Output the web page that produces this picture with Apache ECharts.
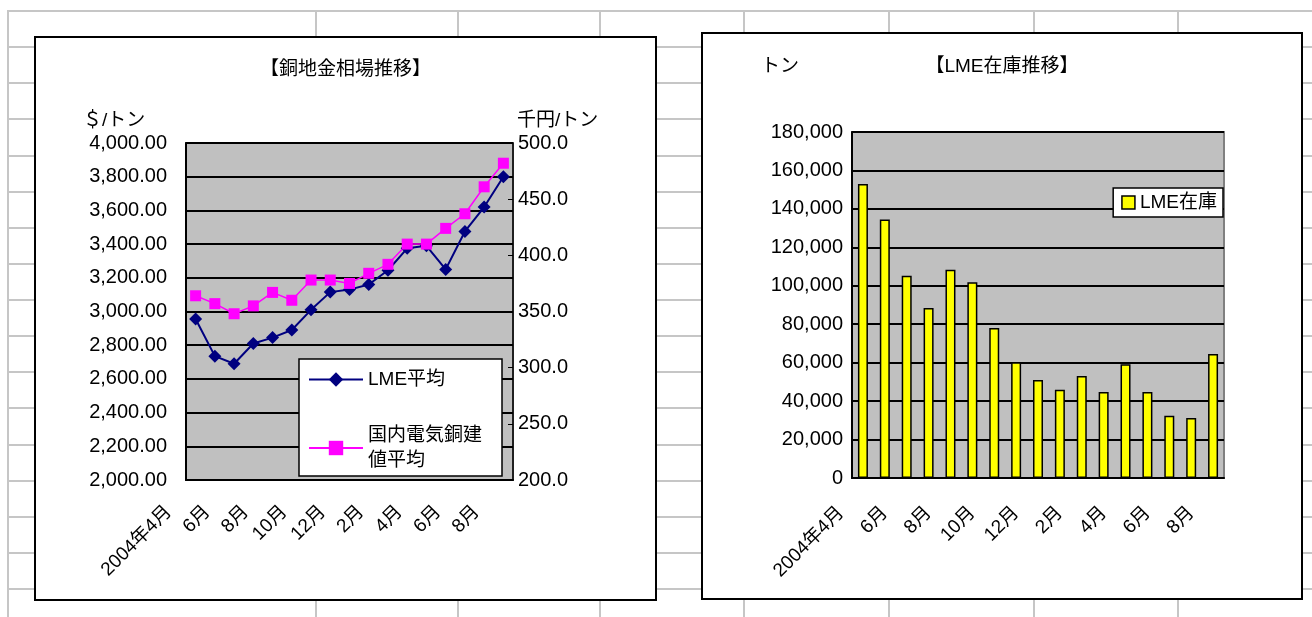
<!DOCTYPE html>
<html>
<head>
<meta charset="utf-8">
<script src="https://cdn.jsdelivr.net/npm/echarts@6/dist/echarts.min.js"></script>
<style>
body{margin:0;width:1312px;height:617px;overflow:hidden;background:#fff;position:relative;}
.hl{position:absolute;height:2px;background:#c6c6c6;}
.vl{position:absolute;width:2px;background:#c6c6c6;}
.box{position:absolute;background:#fff;}
.frame{position:absolute;border:2px solid #000;box-sizing:border-box;pointer-events:none;}
</style>
</head>
<body>
<div id="sheet"></div>
<div class="box" id="priceChart" style="left:34px;top:36px;width:623px;height:565px"></div>
<div class="frame" style="left:34px;top:36px;width:623px;height:565px"></div>
<div class="box" id="stockChart" style="left:701px;top:32px;width:602px;height:568px"></div>
<div class="frame" style="left:701px;top:32px;width:602px;height:568px"></div>
<script>
// months 2004/4 - 2005/8
var months = ['2004年4月','5月','6月','7月','8月','9月','10月','11月','12月','2005年1月','2月','3月','4月','5月','6月','7月','8月'];
// LME average, $/t
var lmeAvg = [2955, 2735, 2690, 2810, 2845, 2890, 3010, 3115, 3130, 3160, 3245, 3375, 3390, 3250, 3475, 3620, 3800];
// domestic electrolytic copper price, 1000 yen/t
var domesticAvg = [364, 357, 348, 355, 367, 360, 378, 378, 375, 384, 392, 410, 410, 424, 437, 461, 482];
// LME stock, t
var lmeStock = [153000, 134500, 105200, 88400, 108300, 101900, 78000, 60200, 51000, 45900, 53100, 44700, 59200, 44700, 32400, 31200, 64500];

var FONT = '"Liberation Sans","Noto Sans CJK JP",sans-serif';

// spreadsheet cell lines behind the charts
var sheet = document.getElementById('sheet');
var colX = [8, 316, 458, 600, 744, 889, 1034, 1178];
for (var k = 0; k <= 16; k++) {
    var d = document.createElement('div');
    d.className = 'hl';
    d.style.left = '8px';
    d.style.width = '1304px';
    d.style.top = Math.round(10 + k * 36.125) + 'px';
    sheet.appendChild(d);
}
colX.forEach(function(x) {
    var d = document.createElement('div');
    d.className = 'vl';
    d.style.left = (x - 1) + 'px';
    d.style.top = '10px';
    d.style.height = '607px';
    sheet.appendChild(d);
});

var black = '#000';

var chart1 = echarts.init(document.getElementById('priceChart'));
chart1.setOption({
    animation: false,
    textStyle: { fontFamily: FONT },
    title: [
        { text: '【銅地金相場推移】', left: 'center', top: 24, padding: 0,
          textStyle: { fontSize: 19, fontWeight: 'normal', color: black, fontFamily: FONT } },
        { text: '＄/トン', left: 49, top: 75, padding: 0,
          textStyle: { fontSize: 19, fontWeight: 'normal', color: black, fontFamily: FONT } },
        { text: '千円/トン', left: 483, top: 75, padding: 0,
          textStyle: { fontSize: 19, fontWeight: 'normal', color: black, fontFamily: FONT } }
    ],
    legend: {
        left: 265,
        top: 323,
        orient: 'vertical',
        backgroundColor: '#fff',
        borderColor: black,
        borderWidth: 1.5,
        padding: [8, 20, 3, 9],
        itemGap: 31,
        itemWidth: 54,
        itemHeight: 18,
        textStyle: { fontSize: 19, color: black, lineHeight: 25, fontFamily: FONT },
        formatter: function(name) {
            return name === '国内電気銅建値平均' ? '国内電気銅建\n値平均' : name;
        },
        data: ['LME平均', '国内電気銅建値平均']
    },
    grid: {
        left: 152, top: 107, width: 327, height: 337,
        show: true, backgroundColor: '#c0c0c0', borderColor: '#808080', borderWidth: 2,
        outerBoundsMode: 'none'
    },
    xAxis: {
        type: 'category',
        data: months,
        boundaryGap: true,
        axisLine: { lineStyle: { color: black, width: 2 } },
        axisTick: { inside: true, interval: 0, length: 5, lineStyle: { color: black } },
        axisLabel: { interval: 1, rotate: 45, margin: 2, padding: [0, 38, 0, 0],
                     fontSize: 19, color: black, fontFamily: FONT },
        splitLine: { show: false }
    },
    yAxis: [
        {
            type: 'value', min: 2000, max: 4000, interval: 200, position: 'left',
            axisLine: { show: true, lineStyle: { color: black, width: 2 } },
            axisTick: { show: true, inside: true, length: 5, lineStyle: { color: black } },
            axisLabel: {
                margin: 19, fontSize: 20, color: black, fontFamily: FONT,
                formatter: function(v) {
                    return v.toLocaleString('en-US', { minimumFractionDigits: 2, maximumFractionDigits: 2 });
                }
            },
            splitLine: { show: true, lineStyle: { color: black, width: 2 } }
        },
        {
            type: 'value', min: 200, max: 500, interval: 50, position: 'right',
            axisLine: { show: true, lineStyle: { color: black, width: 1.5 } },
            axisTick: { show: true, inside: true, length: 5, lineStyle: { color: black } },
            axisLabel: {
                margin: 5, fontSize: 20, color: black, fontFamily: FONT,
                formatter: function(v) { return v.toFixed(1); }
            },
            splitLine: { show: false }
        }
    ],
    series: [
        {
            name: 'LME平均',
            type: 'line',
            yAxisIndex: 0,
            data: lmeAvg,
            symbol: 'diamond',
            symbolSize: 13,
            showAllSymbol: true,
            itemStyle: { color: '#000080' },
            lineStyle: { color: '#000080', width: 2 }
        },
        {
            name: '国内電気銅建値平均',
            type: 'line',
            yAxisIndex: 1,
            data: domesticAvg,
            symbol: 'rect',
            symbolSize: 11,
            showAllSymbol: true,
            itemStyle: { color: '#ff00ff' },
            lineStyle: { color: '#ff00ff', width: 1.5 }
        }
    ]
});

var chart2 = echarts.init(document.getElementById('stockChart'));
chart2.setOption({
    animation: false,
    textStyle: { fontFamily: FONT },
    title: [
        { text: '【LME在庫推移】', left: 'center', top: 25, padding: 0,
          textStyle: { fontSize: 19, fontWeight: 'normal', color: black, fontFamily: FONT } },
        { text: 'トン', left: 60, top: 25, padding: 0,
          textStyle: { fontSize: 19, fontWeight: 'normal', color: black, fontFamily: FONT } }
    ],
    legend: {
        right: 80,
        top: 156,
        backgroundColor: '#fff',
        borderColor: black,
        borderWidth: 1.5,
        padding: [5, 6, 5, 8],
        icon: 'rect',
        itemWidth: 13,
        itemHeight: 13,
        itemStyle: { borderColor: black, borderWidth: 1.5 },
        textStyle: { fontSize: 19, color: black, fontFamily: FONT },
        data: ['LME在庫']
    },
    grid: {
        left: 151, top: 100, width: 372, height: 346,
        show: true, backgroundColor: '#c0c0c0', borderColor: '#808080', borderWidth: 2,
        outerBoundsMode: 'none'
    },
    xAxis: {
        type: 'category',
        data: months,
        boundaryGap: true,
        axisLine: { lineStyle: { color: black, width: 2 } },
        axisTick: { inside: true, interval: 0, length: 5, lineStyle: { color: black } },
        axisLabel: { interval: 1, rotate: 45, margin: 10, padding: [0, 31, 0, 0],
                     fontSize: 19, color: black, fontFamily: FONT },
        splitLine: { show: false }
    },
    yAxis: {
        type: 'value', min: 0, max: 180000, interval: 20000,
        axisLine: { show: true, lineStyle: { color: black, width: 2 } },
        axisTick: { show: true, inside: true, length: 5, lineStyle: { color: black } },
        axisLabel: {
            margin: 9, fontSize: 20, color: black, fontFamily: FONT,
            formatter: function(v) { return v.toLocaleString('en-US'); }
        },
        splitLine: { show: true, lineStyle: { color: black, width: 2 } }
    },
    series: [
        {
            name: 'LME在庫',
            type: 'bar',
            data: lmeStock,
            barWidth: 10,
            itemStyle: { color: '#ffff00', borderColor: black, borderWidth: 1.5 }
        }
    ]
});
</script>
</body>
</html>
